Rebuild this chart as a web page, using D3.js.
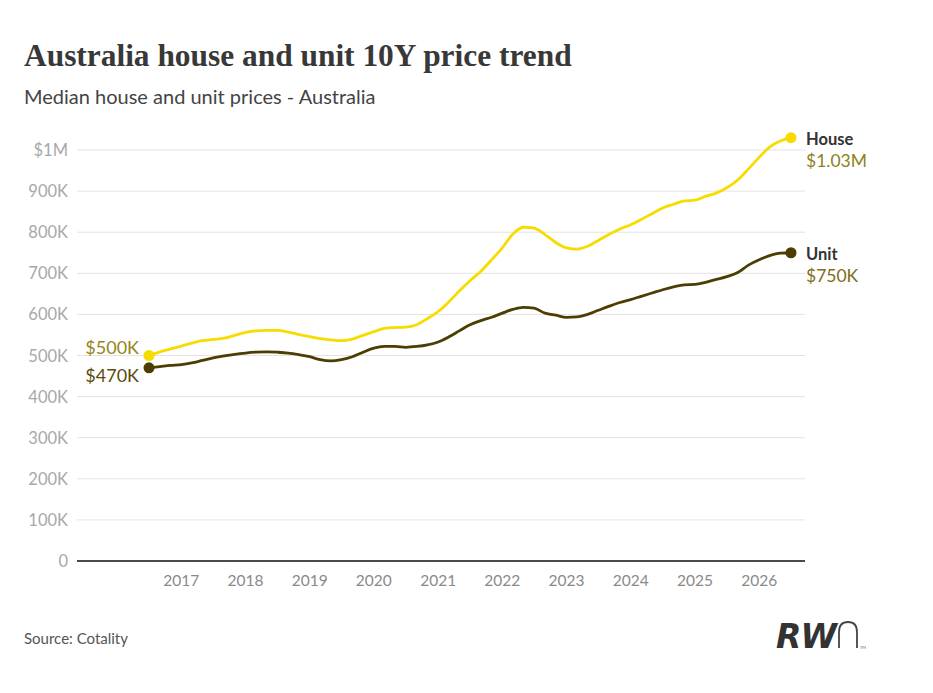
<!DOCTYPE html>
<html>
<head>
<meta charset="utf-8">
<script src="https://cdn.jsdelivr.net/npm/d3@7"></script>
<style>
  body { margin: 0; background: #fff; }
  svg { display: block; font-family: Lato, "Open Sans", sans-serif; }
</style>
</head>
<body>
<svg id="chart" width="933" height="693"></svg>
<script>
// bi-monthly points, Jul 2016 -> Jul 2026
const startMonth = new Date(2016, 6, 1);
const housePrices = [
  500, 509, 516, 523, 530, 536, 539, 542, 549, 556,
  560, 561, 561, 557, 551, 546, 541, 538, 536, 540,
  549, 558, 566, 568, 569, 575, 590, 607, 630, 657,
  682, 705, 733, 762, 795, 812, 810, 794, 775, 762,
  759, 766, 780, 795, 808, 818, 831, 845, 859, 868,
  876, 878, 887, 895, 908, 927, 954, 982, 1007, 1022, 1030
];
const unitPrices = [
  470, 473, 476, 478, 482, 488, 494, 499, 503, 506,
  508, 509, 508, 506, 502, 497, 490, 487, 490, 497,
  508, 518, 522, 522, 520, 522, 526, 533, 545, 560,
  575, 585, 593, 603, 612, 617, 615, 603, 598, 593,
  594, 600, 610, 620, 629, 636, 644, 652, 660, 667,
  672, 673, 678, 685, 692, 702, 720, 733, 743, 749, 750
];
const yTicks = [0, 100, 200, 300, 400, 500, 600, 700, 800, 900, 1000];
const yTickLabels = ["0", "100K", "200K", "300K", "400K", "500K", "600K", "700K", "800K", "900K", "$1M"];
const xTickYears = [2017, 2018, 2019, 2020, 2021, 2022, 2023, 2024, 2025, 2026];

const seriesNames = ["House", "Unit"];
const startLabels = ["$500K", "$470K"];
const endLabels = ["$1.03M", "$750K"];

const houseColor = "#f7dc00";
const unitColor = "#4b3e00";

const dates = housePrices.map((d, i) => d3.timeMonth.offset(startMonth, i * 2));
const series = [
  { name: seriesNames[0], color: houseColor, values: housePrices.map((v, i) => ({ date: dates[i], v })) },
  { name: seriesNames[1], color: unitColor, values: unitPrices.map((v, i) => ({ date: dates[i], v })) }
];

const svg = d3.select("#chart");

const x = d3.scaleTime()
  .domain([dates[0], dates[dates.length - 1]])
  .range([149, 791]);
const y = d3.scaleLinear().domain([0, 1000]).range([561, 150]);

// title
const title = svg.append("text")
  .attr("x", 24).attr("y", 66)
  .attr("font-family", "'Liberation Serif', 'DejaVu Serif', serif")
  .attr("font-weight", "bold")
  .attr("font-size", 34)
  .attr("fill", "#383838")
  .text("Australia house and unit 10Y price trend");
const tw = title.node().getComputedTextLength();
title.attr("font-size", 34 * 548 / tw);

svg.append("text")
  .attr("x", 24).attr("y", 104)
  .attr("font-size", 20)
  .attr("fill", "#444")
  .text("Median house and unit prices - Australia");

// grid
const grid = svg.append("g");
grid.selectAll("line")
  .data(yTicks.filter(d => d > 0))
  .join("line")
  .attr("x1", 77).attr("x2", 805)
  .attr("y1", d => y(d)).attr("y2", d => y(d))
  .attr("stroke", "#e3e3e3").attr("stroke-width", 1);

svg.append("line")
  .attr("x1", 77).attr("x2", 805)
  .attr("y1", y(0)).attr("y2", y(0))
  .attr("stroke", "#4a4a4a").attr("stroke-width", 2);

// y labels
svg.append("g").selectAll("text")
  .data(yTicks)
  .join("text")
  .attr("x", 68)
  .attr("y", d => y(d) + 6)
  .attr("text-anchor", "end")
  .attr("font-size", 16.5)
  .attr("fill", "#a8a8a8")
  .text((d, i) => yTickLabels[i]);

// x labels
svg.append("g").selectAll("text")
  .data(xTickYears)
  .join("text")
  .attr("x", d => x(new Date(d, 0, 1)))
  .attr("y", 586)
  .attr("text-anchor", "middle")
  .attr("font-size", 15.5)
  .attr("fill", "#8a8a8a")
  .text(d => d);

// lines
const line = d3.line()
  .x(d => x(d.date))
  .y(d => y(d.v))
  .curve(d3.curveMonotoneX);

svg.append("g").selectAll("path")
  .data(series)
  .join("path")
  .attr("d", d => line(d.values))
  .attr("fill", "none")
  .attr("stroke", d => d.color)
  .attr("stroke-width", 2.8)
  .attr("stroke-linejoin", "round");

// dots at both ends
series.forEach(s => {
  [s.values[0], s.values[s.values.length - 1]].forEach(p => {
    svg.append("circle")
      .attr("cx", x(p.date)).attr("cy", y(p.v))
      .attr("r", 5.5)
      .attr("fill", s.color);
  });
});

// start labels
svg.append("text")
  .attr("x", 139).attr("y", y(housePrices[0]) - 2)
  .attr("text-anchor", "end")
  .attr("font-size", 18)
  .attr("fill", "#958620")
  .text(startLabels[0]);
svg.append("text")
  .attr("x", 139).attr("y", y(unitPrices[0]) + 14)
  .attr("text-anchor", "end")
  .attr("font-size", 18)
  .attr("fill", "#5c4c0c")
  .text(startLabels[1]);

// end labels
const lastH = housePrices[housePrices.length - 1];
const lastU = unitPrices[unitPrices.length - 1];
svg.append("text")
  .attr("x", 806).attr("y", y(lastH) + 7)
  .attr("font-size", 16.5).attr("font-weight", "bold")
  .attr("fill", "#333")
  .text(seriesNames[0]);
svg.append("text")
  .attr("x", 806).attr("y", y(lastH) + 29)
  .attr("font-size", 17.5)
  .attr("fill", "#8f8121")
  .text(endLabels[0]);
svg.append("text")
  .attr("x", 806).attr("y", y(lastU) + 7)
  .attr("font-size", 16.5).attr("font-weight", "bold")
  .attr("fill", "#333")
  .text(seriesNames[1]);
svg.append("text")
  .attr("x", 806).attr("y", y(lastU) + 29)
  .attr("font-size", 17.5)
  .attr("fill", "#7d6e18")
  .text(endLabels[1]);

// footer
svg.append("text")
  .attr("x", 24).attr("y", 644)
  .attr("font-size", 15)
  .attr("fill", "#555")
  .text("Source: Cotality");

const logo = svg.append("g");
logo.append("text")
  .attr("x", 776).attr("y", 648)
  .attr("font-family", "'DejaVu Sans', sans-serif")
  .attr("font-size", 33)
  .attr("font-weight", "bold")
  .attr("font-style", "italic")
  .attr("fill", "#333")
  .attr("letter-spacing", -1)
  .text("RW");
logo.append("path")
  .attr("d", "M 839 648 L 839 632 Q 839 622 848 622 Q 857 622 857 632 L 857 648")
  .attr("fill", "none")
  .attr("stroke", "#444")
  .attr("stroke-width", 1.8);
logo.append("text")
  .attr("x", 860).attr("y", 649)
  .attr("font-size", 4)
  .attr("fill", "#666")
  .text("TM");
</script>
</body>
</html>
